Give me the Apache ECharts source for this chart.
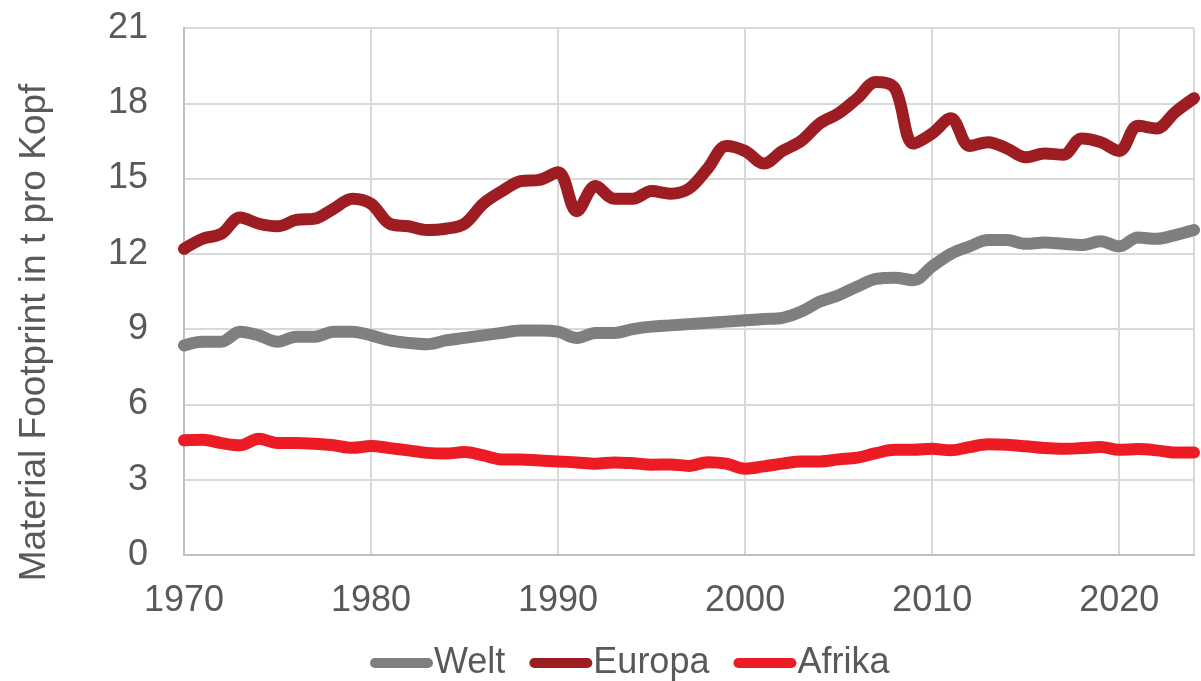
<!DOCTYPE html>
<html>
<head>
<meta charset="utf-8">
<script src="https://cdn.jsdelivr.net/npm/echarts@6/dist/echarts.min.js"></script>
<style>
  html, body { margin: 0; padding: 0; background: #fff; }
  #chart { width: 1201px; height: 681px; }
</style>
</head>
<body>
<div id="chart"></div>
<script>
// Jahre 1970 - 2024
const years = [];
for (let y = 1970; y <= 2024; y++) years.push(y);

const welt = [
  8.35, 8.5, 8.5, 8.9, 8.75, 8.5, 8.7, 8.7, 8.9, 8.9,
  8.75, 8.55, 8.45, 8.4, 8.55, 8.65, 8.75, 8.85, 8.95, 8.95,
  8.9, 8.65, 8.85, 8.85, 9.0, 9.1, 9.15, 9.2, 9.25, 9.3,
  9.35, 9.4, 9.45, 9.7, 10.1, 10.35, 10.7, 11.0, 11.05, 10.95,
  11.5, 12.0, 12.3, 12.55, 12.55, 12.4, 12.45, 12.4, 12.35, 12.5,
  12.3, 12.65, 12.6, 12.75, 12.95
];

const europa = [
  12.2, 12.6, 12.8, 13.45, 13.2, 13.1, 13.35, 13.4, 13.8, 14.2,
  14.0, 13.2, 13.1, 12.95, 13.0, 13.2, 14.0, 14.5, 14.9, 14.95,
  15.25, 13.7, 14.7, 14.2, 14.2, 14.5, 14.4, 14.6, 15.4, 16.3,
  16.1, 15.6, 16.1, 16.5, 17.2, 17.6, 18.2, 18.85, 18.6, 16.4,
  16.8, 17.4, 16.3, 16.45, 16.2, 15.85, 16.0, 15.95, 16.6, 16.45,
  16.1, 17.1, 17.0, 17.65, 18.2
];

const afrika = [
  4.57, 4.59, 4.46, 4.37, 4.63, 4.46, 4.46, 4.43, 4.37, 4.27,
  4.34, 4.26, 4.17, 4.07, 4.04, 4.1, 3.97, 3.81, 3.81, 3.77,
  3.73, 3.69, 3.64, 3.69, 3.66, 3.6, 3.61, 3.55, 3.7, 3.64,
  3.44, 3.53, 3.64, 3.73, 3.73, 3.81, 3.88, 4.06, 4.19, 4.19,
  4.23, 4.17, 4.3, 4.41, 4.39, 4.33, 4.26, 4.23, 4.26, 4.3,
  4.19, 4.22, 4.17, 4.08, 4.08
];

const names = ['Welt', 'Europa', 'Afrika'];
const colors = ['#7f7f7f', '#9d1d22', '#ed1c24'];
const yTicks = [0, 3, 6, 9, 12, 15, 18, 21];

const pairs = arr => years.map((y, i) => [y, arr[i]]);
const font = '"Liberation Sans", Arial, sans-serif';
const stadium = 'path://M5,0 L58,0 A5,5 0 0 1 58,10 L5,10 A5,5 0 0 1 5,0 Z';

const chart = echarts.init(document.getElementById('chart'));

const option = {
  animation: false,
  backgroundColor: '#ffffff',
  grid: { left: 184, right: 7, top: 28, bottom: 126 },
  legend: {
    left: 365,
    top: 640,
    itemWidth: 63,
    itemHeight: 10,
    itemGap: 24,
    icon: stadium,
    data: names,
    textStyle: { fontFamily: font, fontSize: 36, color: '#595959', padding: [0, 0, 0, -4] }
  },
  xAxis: {
    type: 'value',
    min: 1970,
    max: 2024,
    interval: 10,
    axisLine: { show: true, lineStyle: { color: '#bfbfbf', width: 2 } },
    axisTick: { show: false },
    axisLabel: {
      showMaxLabel: false,
      margin: 28,
      fontFamily: font,
      fontSize: 36,
      color: '#595959',
      formatter: v => String(v)
    },
    splitLine: { show: true, lineStyle: { color: '#d9d9d9', width: 2 } }
  },
  yAxis: {
    type: 'value',
    min: yTicks[0],
    max: yTicks[yTicks.length - 1],
    interval: 3,
    name: 'Material Footprint in t pro Kopf',
    nameLocation: 'middle',
    nameGap: 131,
    nameTextStyle: {
      fontFamily: font,
      fontSize: 37,
      color: '#595959',
      padding: [0, 82, 0, 0]
    },
    axisLine: { show: true, lineStyle: { color: '#bfbfbf', width: 2 } },
    axisTick: { show: false },
    axisLabel: { margin: 36, fontFamily: font, fontSize: 36, color: '#595959' },
    splitLine: { show: true, lineStyle: { color: '#d9d9d9', width: 2 } }
  },
  series: [welt, europa, afrika].map((arr, i) => ({
    name: names[i],
    type: 'line',
    data: pairs(arr),
    smooth: 0.35,
    symbol: 'none',
    color: colors[i],
    lineStyle: { width: 12, color: colors[i], cap: 'round', join: 'round' }
  }))
};

chart.setOption(option);
</script>
</body>
</html>
